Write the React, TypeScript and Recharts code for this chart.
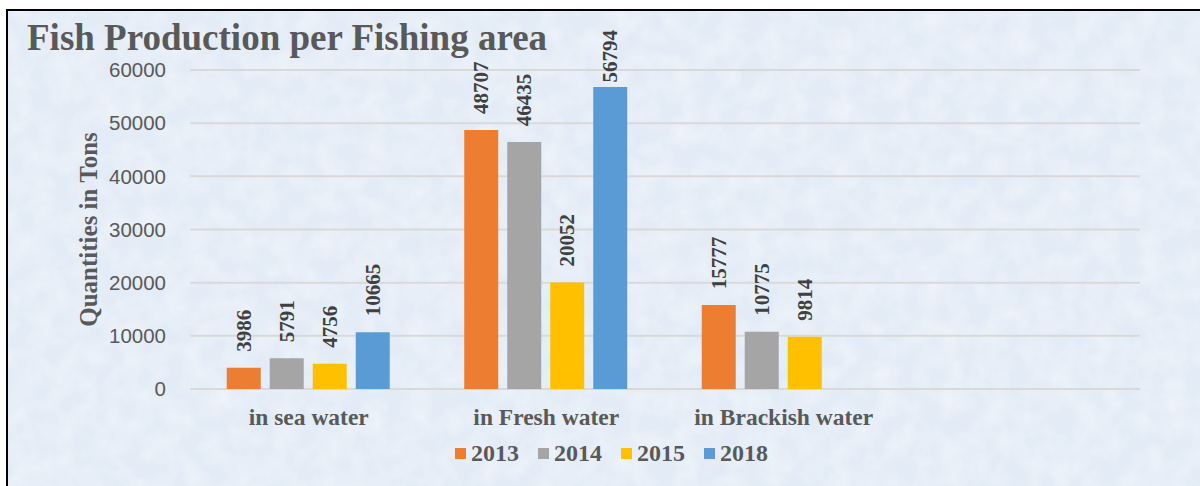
import React from 'react';
import { BarChart, Bar, XAxis, YAxis, CartesianGrid, Legend } from 'recharts';

// Fishing areas (the fourth slot is left empty on purpose)
const areas = ['in sea water', 'in Fresh water', 'in Brackish water', ''];
const years = ['2013', '2014', '2015', '2018'];

// Quantities in tons per fishing area
const values2013 = [3986, 48707, 15777, null];
const values2014 = [5791, 46435, 10775, null];
const values2015 = [4756, 20052, 9814, null];
const values2018 = [10665, 56794, null, null];

const yTicks = [0, 10000, 20000, 30000, 40000, 50000, 60000];
const colors = ['#ED7D31', '#A5A5A5', '#FFC000', '#5B9BD5'];

const series = [values2013, values2014, values2015, values2018];
const data = areas.map((area, i) => {
  const row: Record<string, string | number | null> = { area };
  years.forEach((y, k) => {
    row[y] = series[k][i];
  });
  return row;
});

const SERIF = '"Liberation Serif", "Times New Roman", serif';
const SANS = '"Liberation Sans", Arial, sans-serif';
const TEXT = '#595959';

const W = 1192;
const H = 475;

// Vertical value label above each bar; kept inside the chart when the bar is tall
const ValueLabel = (props: any) => {
  const { x, y, width, value } = props;
  if (value === null || value === undefined) return null;
  const fontSize = 21;
  const len = String(value).length * fontSize * 0.5;
  const cx = x + width / 2;
  const start = Math.max(y - 16, 19 + len);
  return (
    <text
      x={cx}
      y={start}
      transform={`rotate(-90, ${cx}, ${start})`}
      textAnchor="start"
      dominantBaseline="central"
      fontFamily={SERIF}
      fontWeight="bold"
      fontSize={fontSize}
      fill="#404040"
    >
      {value}
    </text>
  );
};

const renderLegend = (props: any) => {
  const payload = props.payload || [];
  return (
    <div style={{ display: 'flex', alignItems: 'center' }}>
      {payload.map((p: any, i: number) => (
        <div
          key={p.value}
          style={{ display: 'flex', alignItems: 'center', marginRight: i < payload.length - 1 ? 19 : 0 }}
        >
          <span style={{ width: 11, height: 11, background: p.color, marginRight: 5, display: 'inline-block' }} />
          <span style={{ fontFamily: SERIF, fontWeight: 'bold', fontSize: 24, lineHeight: '24px', color: TEXT }}>
            {p.value}
          </span>
        </div>
      ))}
    </div>
  );
};

const YTitle = (props: any) => {
  const vb = props.viewBox || { x: 0, y: 0, width: 0, height: 0 };
  const cx = vb.x + 80;
  const cy = vb.y + vb.height / 2;
  return (
    <text
      x={cx}
      y={cy}
      transform={`rotate(-90, ${cx}, ${cy})`}
      textAnchor="middle"
      dominantBaseline="central"
      fontFamily={SERIF}
      fontWeight="bold"
      fontSize={25}
      fill={TEXT}
    >
      Quantities in Tons
    </text>
  );
};

export default function App() {
  return (
    <div
      style={{
        position: 'fixed',
        left: 6,
        top: 9,
        width: 1192,
        height: 477,
        borderLeft: '2px solid #000',
        borderTop: '2px solid #000',
        background: '#E2EBF6',
        overflow: 'hidden',
      }}
    >
      <svg width="100%" height="100%" style={{ position: 'absolute', left: 0, top: 0 }}>
        <filter id="paper">
          <feTurbulence type="fractalNoise" baseFrequency="0.045" numOctaves="3" seed="7" />
          <feColorMatrix type="matrix" values="0 0 0 0 1  0 0 0 0 1  0 0 0 0 1  0 0 0 1.2 -0.35" />
        </filter>
        <rect width="100%" height="100%" filter="url(#paper)" opacity="0.55" />
      </svg>
      <div
        style={{
          position: 'absolute',
          left: 19,
          top: 11,
          fontFamily: SERIF,
          fontWeight: 'bold',
          fontSize: 37,
          lineHeight: '32px',
          color: TEXT,
          whiteSpace: 'nowrap',
          zIndex: 2,
        }}
      >
        Fish Production per Fishing area
      </div>
      <div style={{ position: 'absolute', left: 0, top: 0 }}>
        <BarChart
          width={W}
          height={H}
          data={data}
          margin={{ top: 59, right: 60, bottom: 0, left: 0 }}
          barCategoryGap="15.47%"
          barGap={9}
        >
          <CartesianGrid vertical={false} stroke="#D9D9D9" strokeWidth={2} />
          <XAxis
            dataKey="area"
            height={97}
            axisLine={false}
            tickLine={false}
            tickMargin={13}
            interval={0}
            tick={{ fontFamily: SERIF, fontWeight: 'bold', fontSize: 23.5, fill: TEXT }}
          />
          <YAxis
            width={182}
            domain={[0, 60000]}
            ticks={yTicks}
            axisLine={false}
            tickLine={false}
            tickMargin={18}
            tick={{ fontFamily: SANS, fontSize: 20.5, fill: TEXT }}
            label={<YTitle />}
          />
          <Legend
            verticalAlign="middle"
            align="center"
            layout="horizontal"
            wrapperStyle={{ left: 447, top: 430, width: 'auto' }}
            content={renderLegend}
          />
          {years.map((y, k) => (
            <Bar key={y} dataKey={y} name={y} fill={colors[k]} isAnimationActive={false} label={<ValueLabel />} />
          ))}
        </BarChart>
      </div>
    </div>
  );
}
